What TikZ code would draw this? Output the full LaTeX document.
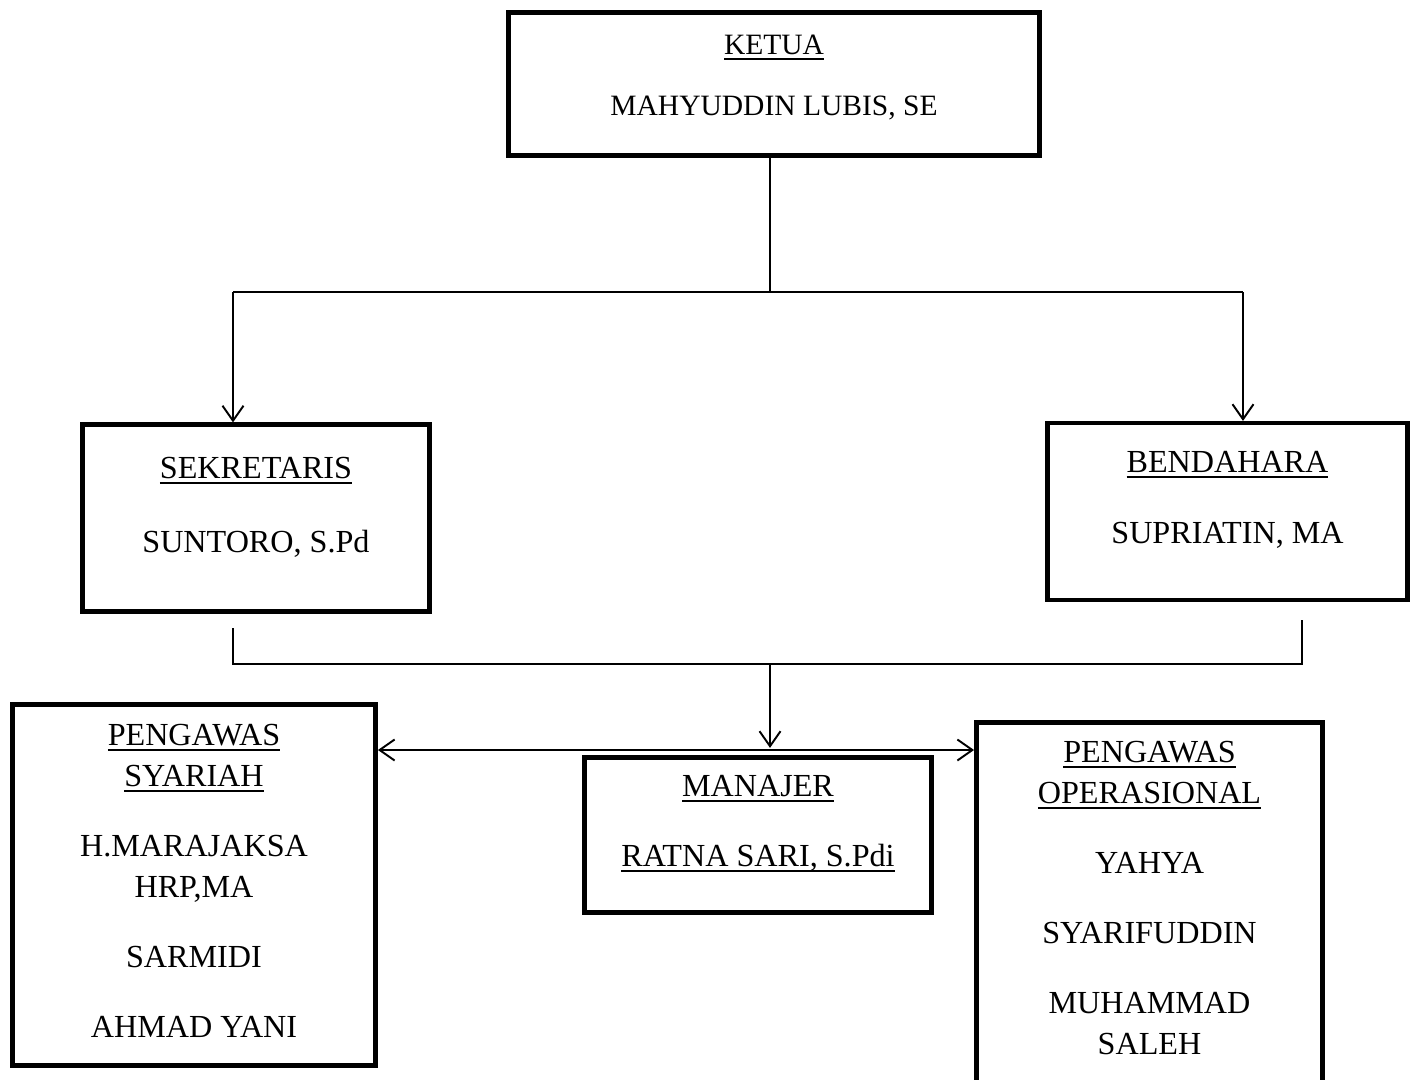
\documentclass[tikz,border=0pt]{standalone}
\usepackage{fontspec}
\setmainfont{Liberation Serif}
\usepackage{tikz}
\usetikzlibrary{arrows.meta}

\newcommand{\uln}[1]{\leavevmode\setbox0\hbox{#1}\rlap{\rule[-3pt]{\wd0}{1pt}}\box0}

\tikzset{
  box/.style={draw=black, line width=2.8pt, inner sep=0pt, outer sep=0pt},
  boxtext/.style={anchor=north, align=center, inner sep=0pt,
    font=\fontsize{18.3}{23.3}\selectfont},
  link/.style={draw=black, line width=1.1pt},
  arr/.style={-{Straight Barb[length=3mm,width=4.2mm]}, shorten >=1.2pt},
  arrboth/.style={{Straight Barb[length=3mm,width=4.2mm]}-{Straight Barb[length=3mm,width=4.2mm]}, shorten <=1.4pt, shorten >=1.4pt}
}

\begin{document}
\begin{tikzpicture}[x=0.02cm, y=-0.02cm]
  \useasboundingbox (0,0) rectangle (1417,1079);
  \clip (0,0) rectangle (1417,1079);

  % boxes
  \node[box, minimum width=10.62cm, minimum height=2.86cm] (ketua) at (774,84) {};
  \node[box, minimum width=6.94cm, minimum height=3.74cm] (sekretaris) at (256,518) {};
  \node[box, minimum width=7.2cm, minimum height=3.54cm] (bendahara) at (1227.5,511.5) {};
  \node[box, minimum width=7.26cm, minimum height=7.22cm] (syariah) at (194,885) {};
  \node[box, minimum width=6.94cm, minimum height=3.1cm] (manajer) at (758,835) {};
  \node[box, minimum width=6.92cm, minimum height=8cm] (operasional) at (1149.5,922.5) {};

  % texts
  \node[boxtext, font=\fontsize{16.8}{23.3}\selectfont] (ketuatxt) at ([yshift=-0.45cm]ketua.north)
    {\uln{KETUA}\\[11.4pt] MAHYUDDIN LUBIS, SE};
  \node[boxtext] (sekretaristxt) at ([yshift=-0.655cm]sekretaris.north)
    {\uln{SEKRETARIS}\\[18.8pt] SUNTORO, S.Pd};
  \node[boxtext] (bendaharatxt) at ([yshift=-0.565cm]bendahara.north)
    {\uln{BENDAHARA}\\[17pt] SUPRIATIN, MA};
  \node[boxtext] (syariahtxt) at ([yshift=-0.395cm]syariah.north)
    {\uln{PENGAWAS}\\ \uln{SYARIAH}\\[16.5pt] H.MARAJAKSA\\ HRP,MA\\[16.5pt] SARMIDI\\[16.5pt] AHMAD YANI};
  \node[boxtext] (manajertxt) at ([yshift=-0.355cm]manajer.north)
    {\uln{MANAJER}\\[16.5pt] \uln{RATNA SARI, S.Pdi}};
  \node[boxtext] (operasionaltxt) at ([yshift=-0.375cm]operasional.north)
    {\uln{PENGAWAS}\\ \uln{OPERASIONAL}\\[16.5pt] YAHYA\\[16.5pt] SYARIFUDDIN\\[16.5pt] MUHAMMAD\\ SALEH};

  % connectors
  \coordinate (top) at (770,292);
  \coordinate (topL) at (233,292);
  \coordinate (topR) at (1243,292);
  \draw[link] (ketua.south -| top) -- (top);
  \draw[link] (topL) -- (topR);
  \foreach \c/\b in {topL/sekretaris, topR/bendahara}
  {
  \draw[link, arr] (\c) -- (\b.north -| \c);
  }

  \coordinate (sekstub) at (233,628);
  \coordinate (benstub) at (1302,620);
  \coordinate (botL) at (233,664);
  \coordinate (botR) at (1302,664);
  \coordinate (bot) at (770,664);
  \coordinate (mid) at (770,750);
  \draw[link] (sekstub) -- (botL) -- (botR) -- (benstub);
  \draw[link, arr] (bot) -- (mid);
  \draw[link, arrboth] (syariah.east |- mid) -- (operasional.west |- mid);

\end{tikzpicture}
\end{document}
